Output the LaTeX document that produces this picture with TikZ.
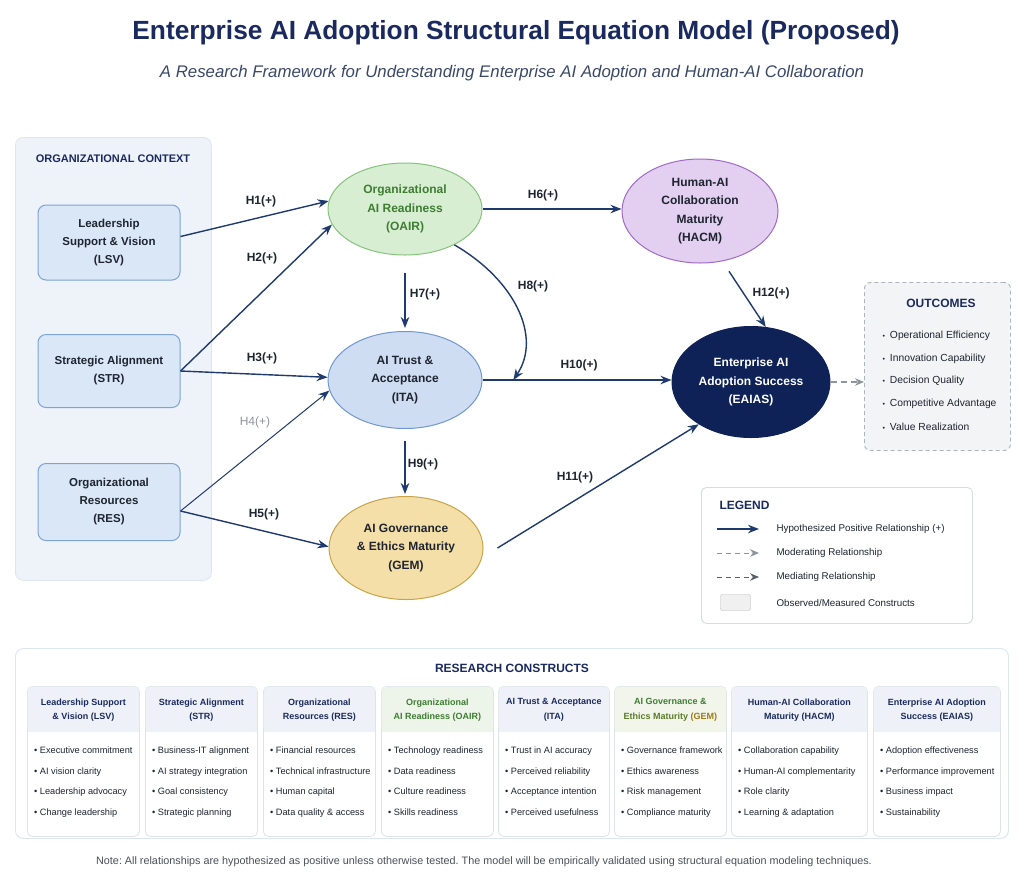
\documentclass[tikz,border=0pt]{standalone}
\usepackage{fontspec}
\setmainfont{Liberation Sans}
\usetikzlibrary{shapes.geometric,arrows.meta,calc}
\frenchspacing
\definecolor{navy}{HTML}{1B2A5E}
\definecolor{subc}{HTML}{3A4868}
\definecolor{arrowc}{HTML}{1F3A6E}
\definecolor{panelf}{HTML}{EEF3FA}
\definecolor{panelb}{HTML}{DCE5F1}
\definecolor{boxf}{HTML}{DAE7F7}
\definecolor{boxb}{HTML}{7DA3D8}
\definecolor{txt}{HTML}{1E2430}
\definecolor{oairf}{HTML}{D8EED3}
\definecolor{oairb}{HTML}{86C47C}
\definecolor{oairt}{HTML}{3E7D32}
\definecolor{hacmf}{HTML}{E3D0F0}
\definecolor{hacmb}{HTML}{A06AC8}
\definecolor{itaf}{HTML}{CFDDF2}
\definecolor{itab}{HTML}{6E98D2}
\definecolor{gemf}{HTML}{F4DFA8}
\definecolor{gemb}{HTML}{C8A448}
\definecolor{eaiasf}{HTML}{0E2257}
\definecolor{outf}{HTML}{F3F4F6}
\definecolor{outb}{HTML}{AEB4BC}
\definecolor{legb}{HTML}{D5DCE6}
\definecolor{grayl}{HTML}{8E949C}
\definecolor{grayd}{HTML}{5A606A}
\definecolor{hdrf}{HTML}{EEF2F8}
\definecolor{hdrg}{HTML}{EDF5EA}
\definecolor{hdry}{HTML}{F1F5EA}
\definecolor{cardb}{HTML}{DDE3EB}
\definecolor{gemt}{HTML}{A07A12}
\definecolor{notec}{HTML}{4A4F58}
\tikzset{
  ctxbox/.style={draw=boxb, fill=boxf, rounded corners=8pt, line width=1pt, minimum width=142pt,
    align=center, text=txt, font=\bfseries\fontsize{11.5}{18}\selectfont},
  latent/.style={ellipse, draw, line width=1pt, inner sep=0pt, align=center, text=txt,
    font=\bfseries\fontsize{12}{18.5}\selectfont},
  hyp/.style={draw=arrowc, line width=1.4pt, -{Stealth[length=11pt,width=8.5pt]}},
  hlab/.style={font=\bfseries\fontsize{12}{14}\selectfont, text=txt},
  modarrow/.style={draw=grayl, line width=1.1pt, dash pattern=on 5pt off 4pt, -{Stealth[length=9pt,width=7.5pt]}},
  medarrow/.style={draw=grayd, line width=1.1pt, dash pattern=on 5pt off 4pt, -{Stealth[length=9pt,width=7.5pt]}},
  legtext/.style={anchor=west, font=\fontsize{9.8}{12}\selectfont, text=txt},
  outtext/.style={anchor=west, font=\fontsize{10.3}{12}\selectfont, text=txt},
  cardbg/.style={draw=cardb, fill=white, rounded corners=5pt, line width=0.8pt, anchor=north west, minimum height=150pt},
  chead/.style={align=center, font=\bfseries\fontsize{9}{14.5}\selectfont, text=navy},
  citems/.style={align=left, anchor=north west, inner sep=0pt, font=\fontsize{9.2}{20.4}\selectfont, text=txt},
}
\newcommand{\cardpanel}[7]{%
  \node[cardbg, minimum width=#3pt] (#1) at (#2,686) {};
  \fill[#4, rounded corners=4.5pt] ([xshift=0.6pt,yshift=-0.6pt]#1.north west) rectangle ([xshift=-0.6pt,yshift=-46pt]#1.north east);
  \fill[#4] ([xshift=0.6pt,yshift=-38pt]#1.north west) rectangle ([xshift=-0.6pt,yshift=-46pt]#1.north east);
  \node[chead] (#1t) at ([yshift=-24pt]#1.north) {#5};
  \node[citems] (#1i) at ([xshift=7pt,yshift=-61pt]#1.north west) {#6};
}
\begin{document}
\begin{tikzpicture}[x=1pt,y=-1pt]
\useasboundingbox[fill=white] (0,0) rectangle (1024,887);

% titles
\node[font=\bfseries\fontsize{26.3}{30}\selectfont, text=navy] (title) at (516,33) {Enterprise AI Adoption Structural Equation Model (Proposed)};
\node[font=\itshape\fontsize{16.8}{19}\selectfont, text=subc] (subtitle) at (512,73) {A Research Framework for Understanding Enterprise AI Adoption and Human-AI Collaboration};

% organizational context panel
\node[draw=panelb, fill=panelf, rounded corners=8pt, line width=0.8pt, anchor=north west,
  minimum width=196pt, minimum height=443pt] (ctx) at (15,137) {};
\node[font=\bfseries\fontsize{11}{13}\selectfont, text=navy] (ctxlab) at (113,159) {ORGANIZATIONAL CONTEXT};

\node[ctxbox, minimum height=75pt] (lsv) at (109,242.5) {Leadership\\Support \& Vision\\(LSV)};
\node[ctxbox, minimum height=73pt] (str) at (109,371) {Strategic Alignment\\(STR)};
\node[ctxbox, minimum height=77pt] (res) at (109,502) {Organizational\\Resources\\(RES)};

% latent constructs
\node[latent, fill=oairf, draw=oairb, text=oairt, minimum width=154pt, minimum height=92pt] (oair) at (405,209) {Organizational\\AI Readiness\\(OAIR)};
\node[latent, fill=hacmf, draw=hacmb, minimum width=156pt, minimum height=104pt] (hacm) at (700,211) {Human-AI\\Collaboration\\Maturity\\(HACM)};
\node[latent, fill=itaf, draw=itab, minimum width=154pt, minimum height=97pt] (ita) at (405,380) {AI Trust \&\\Acceptance\\(ITA)};
\node[latent, fill=gemf, draw=gemb, minimum width=154pt, minimum height=103pt] (gem) at (406,548) {AI Governance\\\& Ethics Maturity\\(GEM)};
\node[latent, fill=eaiasf, draw=eaiasf, text=white, minimum width=158pt, minimum height=111pt] (eaias) at (751,382) {Enterprise AI\\Adoption Success\\(EAIAS)};

% outcomes
\node[draw=outb, dash pattern=on 4pt off 3pt, fill=outf, rounded corners=6pt, line width=0.9pt, anchor=north west,
  minimum width=146pt, minimum height=168pt] (out) at (864,282) {};
\node[font=\bfseries\fontsize{12}{14}\selectfont, text=navy] (outlab) at (941,303) {OUTCOMES};
\node[outtext] (o1) at (879,336) {{\fontsize{7}{8}\selectfont\textbullet}\hspace{5pt}Operational Efficiency};
\node[outtext] (o2) at (879,359) {{\fontsize{7}{8}\selectfont\textbullet}\hspace{5pt}Innovation Capability};
\node[outtext] (o3) at (879,381) {{\fontsize{7}{8}\selectfont\textbullet}\hspace{5pt}Decision Quality};
\node[outtext] (o4) at (879,404) {{\fontsize{7}{8}\selectfont\textbullet}\hspace{5pt}Competitive Advantage};
\node[outtext] (o5) at (879,427) {{\fontsize{7}{8}\selectfont\textbullet}\hspace{5pt}Value Realization};

% hypothesized paths
\draw[hyp] ([yshift=6pt]lsv.east) -- (oair.174);
\draw[hyp] (str.east) -- (oair.192);
\draw[hyp] (str.east) -- (ita.178);
\draw[hyp, line width=1pt] ([yshift=-9pt]res.east) -- (ita.188);
\draw[hyp] ([yshift=-9pt]res.east) -- (gem.179);
\draw[hyp] (oair.east) -- (oair.east -| hacm.west);
\draw[hyp, shorten <=17pt, shorten >=3pt] (oair.south) -- (oair.south |- ita.north);
\coordinate (h10e) at (ita.east -| eaias.west);
\coordinate (h8e) at ($(ita.east)!0.163!(h10e)$);
\draw[hyp] (ita.east) -- (h10e);
\draw[hyp] (oair.-36) .. controls (515,280) and (542,337) .. (h8e);
\draw[hyp, shorten <=12pt, shorten >=2pt] (ita.south) -- (ita.south |- gem.north);
\draw[hyp] ([xshift=14pt]gem.east) -- (eaias.219);
\draw[hyp, shorten <=12pt] (hacm.-66) -- (eaias.75);
\draw[modarrow, dash pattern=on 6pt off 4pt] (eaias.east) -- (eaias.east -| out.west);

\node[hlab] (h1) at (261,201) {H1(+)};
\node[hlab] (h2) at (262,258) {H2(+)};
\node[hlab] (h3) at (262,358) {H3(+)};
\node[hlab, text=grayl, font=\fontsize{12}{14}\selectfont] (h4) at (255,422) {H4(+)};
\node[hlab] (h5) at (264,514) {H5(+)};
\node[hlab] (h6) at (543,195) {H6(+)};
\node[hlab] (h7) at (425,294) {H7(+)};
\node[hlab] (h8) at (533,286) {H8(+)};
\node[hlab] (h9) at (423,464) {H9(+)};
\node[hlab] (h10) at (579,365) {H10(+)};
\node[hlab] (h11) at (575,477) {H11(+)};
\node[hlab] (h12) at (771,293) {H12(+)};

% legend
\node[draw=legb, fill=white, rounded corners=5pt, line width=0.9pt, anchor=north west,
  minimum width=271pt, minimum height=136pt] (leg) at (701,487) {};
\node[anchor=west, font=\bfseries\fontsize{12}{14}\selectfont, text=navy] (leglab) at (716,505) {LEGEND};
\coordinate (l1a) at (717,529); \coordinate (l1b) at (759,529);
\coordinate (l2a) at (717,553); \coordinate (l2b) at (759,553);
\coordinate (l3a) at (717,577); \coordinate (l3b) at (759,577);
\draw[hyp] (l1a) -- (l1b);
\draw[modarrow, line width=0.9pt] (l2a) -- (l2b);
\draw[medarrow, line width=0.9pt] (l3a) -- (l3b);
\node[legtext] (lt1) at (773,529) {Hypothesized Positive Relationship (+)};
\node[legtext] (lt2) at (773,553) {Moderating Relationship};
\node[legtext] (lt3) at (773,577) {Mediating Relationship};
\node[draw=gray!55, fill=gray!12, rounded corners=2pt, minimum width=30pt, minimum height=16pt, inner sep=0pt] (lobs) at (735.5,602.5) {};
\node[legtext] (lt4) at (773,603) {Observed/Measured Constructs};

% research constructs
\node[draw=panelb, fill=white, rounded corners=8pt, line width=0.9pt, anchor=north west,
  minimum width=993pt, minimum height=190pt] (rc) at (15,648) {};
\node[font=\bfseries\fontsize{12}{14}\selectfont, text=navy] (rclab) at (512,668) {RESEARCH CONSTRUCTS};

\cardpanel{c1}{27}{112}{hdrf}{Leadership Support\\\& Vision (LSV)}{\textbullet\ Executive commitment\\\textbullet\ AI vision clarity\\\textbullet\ Leadership advocacy\\\textbullet\ Change leadership}{}
\cardpanel{c2}{145}{112}{hdrf}{Strategic Alignment\\(STR)}{\textbullet\ Business-IT alignment\\\textbullet\ AI strategy integration\\\textbullet\ Goal consistency\\\textbullet\ Strategic planning}{}
\cardpanel{c3}{263}{112}{hdrf}{Organizational\\Resources (RES)}{\textbullet\ Financial resources\\\textbullet\ Technical infrastructure\\\textbullet\ Human capital\\\textbullet\ Data quality \& access}{}
\cardpanel{c4}{381}{112}{hdrg}{\textcolor{oairt}{Organizational}\\\textcolor{oairt}{AI Readiness (OAIR)}}{\textbullet\ Technology readiness\\\textbullet\ Data readiness\\\textbullet\ Culture readiness\\\textbullet\ Skills readiness}{}
\cardpanel{c5}{498}{111}{hdrf}{AI Trust \& Acceptance\\(ITA)}{\textbullet\ Trust in AI accuracy\\\textbullet\ Perceived reliability\\\textbullet\ Acceptance intention\\\textbullet\ Perceived usefulness}{}
\cardpanel{c6}{614}{112}{hdry}{\textcolor{oairt}{AI Governance \&}\\\textcolor{oairt!70!gemt}{Ethics Maturity} \textcolor{gemt}{(GEM)}}{\textbullet\ Governance framework\\\textbullet\ Ethics awareness\\\textbullet\ Risk management\\\textbullet\ Compliance maturity}{}
\cardpanel{c7}{731}{136}{hdrf}{Human-AI Collaboration\\Maturity (HACM)}{\textbullet\ Collaboration capability\\\textbullet\ Human-AI complementarity\\\textbullet\ Role clarity\\\textbullet\ Learning \& adaptation}{}
\cardpanel{c8}{873}{127}{hdrf}{Enterprise AI Adoption\\Success (EAIAS)}{\textbullet\ Adoption effectiveness\\\textbullet\ Performance improvement\\\textbullet\ Business impact\\\textbullet\ Sustainability}{}

% note
\node[font=\fontsize{10.8}{12}\selectfont, text=notec] (note) at (484,862) {Note: All relationships are hypothesized as positive unless otherwise tested. The model will be empirically validated using structural equation modeling techniques.};
\end{tikzpicture}
\end{document}
